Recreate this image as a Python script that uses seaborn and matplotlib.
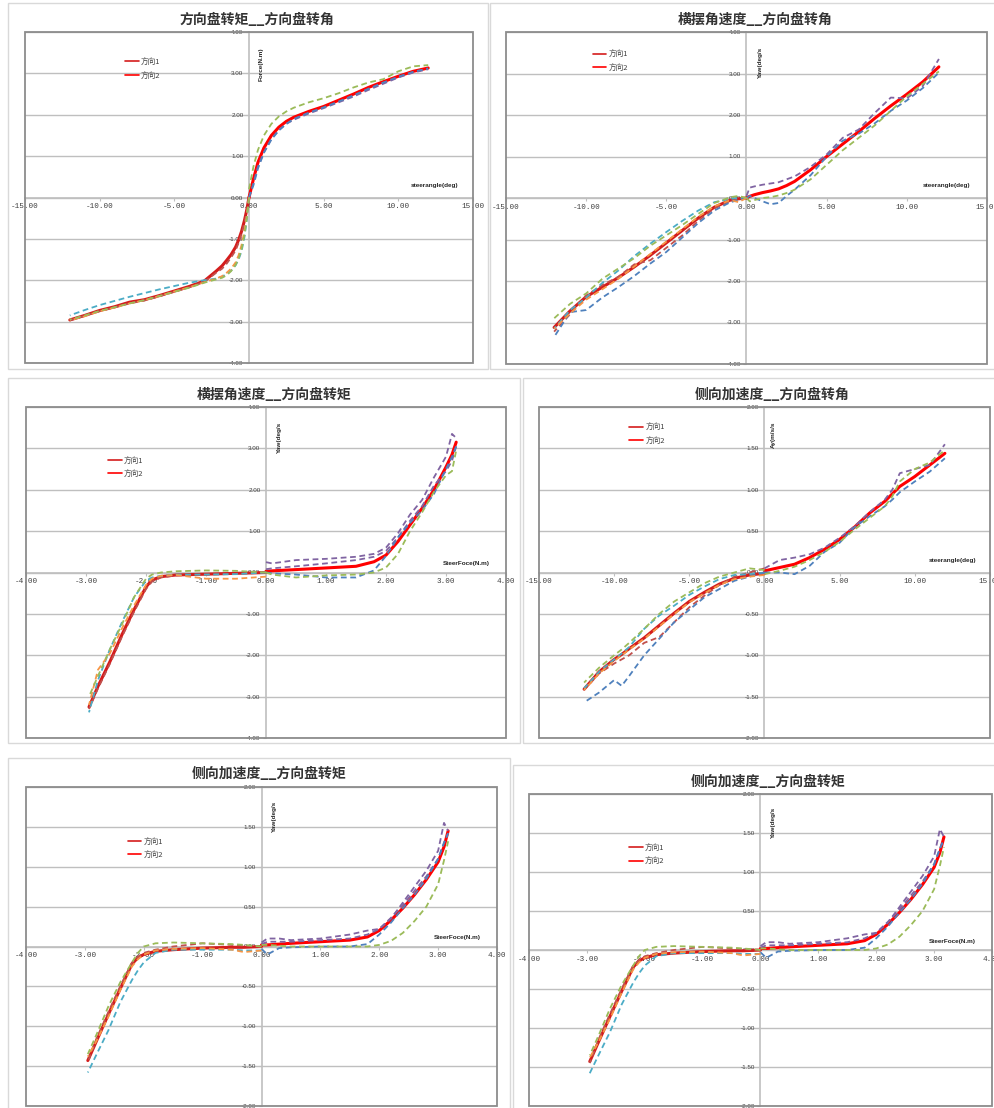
import matplotlib
matplotlib.use("Agg")
import numpy as np
import matplotlib.pyplot as plt
import seaborn as sns
from matplotlib.patches import Rectangle
from matplotlib.ticker import FormatStrFormatter
from matplotlib.font_manager import FontProperties

# ---------------- DATA ----------------
TITLES = ["方向盘转矩__方向盘转角", "横摆角速度__方向盘转角", "横摆角速度__方向盘转矩",
          "侧向加速度__方向盘转角", "侧向加速度__方向盘转矩", "侧向加速度__方向盘转矩"]
XLABELS = ["steerangle(deg)", "steerangle(deg)", "SteerFoce(N.m)",
           "steerangle(deg)", "SteerFoce(N.m)", "SteerFoce(N.m)"]
YLABELS = ["Force(N.m)", "Yaw(deg/s", "Yaw(deg/s", "Ay(m/s/s", "Yaw(deg/s", "Yaw(deg/s"]
LEGEND_LABELS = ["方向1", "方向2"]
ANGLE_TICKS = [-15, -10, -5, 0, 5, 10, 15]
TORQUE_TICKS = [-4, -3, -2, -1, 0, 1, 2, 3, 4]
YAW_TICKS = [-4, -3, -2, -1, 0, 1, 2, 3, 4]
AY_TICKS = [-2, -1.5, -1, -0.5, 0, 0.5, 1, 1.5, 2]

# Panel 1: torque vs steer angle
P1_POS_X = [0, 0.3, 0.6, 1.0, 1.5, 2.0, 2.5, 3.0, 4.0, 5.0, 6.0, 7.0, 8.0, 9.0, 10.0, 11.0, 12.0]
P1_POS_SOLID = [0.0, 0.45, 0.85, 1.2, 1.5, 1.7, 1.84, 1.94, 2.08, 2.2, 2.35, 2.5, 2.66, 2.8, 2.93, 3.05, 3.13]
P1_POS_PURPLE = [0.0, 0.35, 0.75, 1.1, 1.42, 1.63, 1.78, 1.88, 2.03, 2.16, 2.3, 2.44, 2.6, 2.75, 2.9, 3.02, 3.1]
P1_POS_BLUE = [0.0, 0.3, 0.7, 1.08, 1.4, 1.62, 1.78, 1.9, 2.05, 2.18, 2.32, 2.47, 2.63, 2.78, 2.92, 3.04, 3.12]
P1_POS_GREEN = [0.2, 0.75, 1.15, 1.5, 1.78, 1.96, 2.08, 2.17, 2.3, 2.4, 2.52, 2.66, 2.78, 2.86, 3.05, 3.17, 3.2]
P1_NEG_X = [0, -0.15, -0.3, -0.5, -0.7, -0.9, -1.2, -1.5, -1.8, -2.2, -3, -4, -5, -6, -7, -8, -9, -10, -11, -12]
P1_NEG_SOLID = [0, -0.3, -0.55, -0.82, -1.03, -1.2, -1.38, -1.52, -1.65, -1.78, -2.02, -2.15, -2.26, -2.37, -2.47, -2.53, -2.64, -2.73, -2.85, -2.96]
P1_NEG_RED = [0, -0.35, -0.6, -0.88, -1.1, -1.28, -1.45, -1.6, -1.72, -1.82, -2.04, -2.17, -2.28, -2.39, -2.49, -2.56, -2.66, -2.75, -2.86, -2.97]
P1_NEG_AQUA = [0, -0.55, -0.95, -1.3, -1.5, -1.64, -1.77, -1.85, -1.91, -1.96, -2.0, -2.06, -2.14, -2.22, -2.31, -2.4, -2.5, -2.6, -2.72, -2.85]
P1_NEG_ORANGE = [0, -0.45, -0.8, -1.15, -1.4, -1.57, -1.72, -1.82, -1.9, -1.96, -2.05, -2.17, -2.27, -2.38, -2.48, -2.56, -2.66, -2.75, -2.87, -2.97]
P1_NEG_GREEN = [0, -0.5, -0.9, -1.25, -1.48, -1.63, -1.78, -1.88, -1.94, -1.98, -2.06, -2.18, -2.28, -2.38, -2.48, -2.56, -2.65, -2.74, -2.85, -2.95]

# Panel 2: yaw rate vs steer angle
P2_POS_X = [0, 0.2, 0.5, 1, 1.5, 2, 2.5, 3, 4, 5, 6, 7, 8, 9, 10, 11, 12]
P2_POS_SOLID = [0, 0.04, 0.08, 0.13, 0.17, 0.22, 0.3, 0.4, 0.68, 1.0, 1.3, 1.6, 1.92, 2.22, 2.5, 2.8, 3.16]
P2_POS_PURPLE = [0.05, 0.25, 0.28, 0.32, 0.35, 0.38, 0.45, 0.52, 0.75, 1.05, 1.45, 1.65, 2.05, 2.42, 2.4, 2.7, 3.35]
P2_POS_BLUE = [0.0, 0.05, 0.0, -0.08, -0.15, -0.12, 0.05, 0.2, 0.55, 1.0, 1.38, 1.55, 1.8, 2.1, 2.35, 2.65, 3.02]
P2_POS_GREEN = [0.0, -0.08, -0.05, 0.0, 0.02, 0.06, 0.12, 0.2, 0.45, 0.8, 1.15, 1.45, 1.75, 2.1, 2.45, 2.75, 3.05]
P2_NEG_X = [0, -0.5, -1, -2, -3, -4, -5, -6, -7, -8, -9, -10, -11, -12]
P2_NEG_SOLID = [0, -0.02, -0.05, -0.22, -0.48, -0.78, -1.08, -1.38, -1.66, -1.92, -2.15, -2.38, -2.72, -3.12]
P2_NEG_RED = [0, -0.03, -0.08, -0.25, -0.55, -0.9, -1.2, -1.5, -1.6, -1.9, -2.1, -2.35, -2.8, -3.22]
P2_NEG_AQUA = [0, 0.0, -0.02, -0.1, -0.3, -0.55, -0.82, -1.1, -1.4, -1.75, -2.05, -2.4, -2.7, -3.15]
P2_NEG_BLUE = [0, -0.05, -0.1, -0.3, -0.6, -0.95, -1.3, -1.58, -1.88, -2.15, -2.4, -2.7, -2.75, -3.35]
P2_NEG_ORANGE = [0, -0.1, -0.05, -0.2, -0.45, -0.75, -1.05, -1.35, -1.65, -1.95, -2.2, -2.45, -2.78, -3.15]
P2_NEG_GREEN = [0, 0.05, 0.02, -0.12, -0.38, -0.65, -0.9, -1.15, -1.45, -1.7, -1.95, -2.3, -2.55, -2.9]

# Panel 3: yaw rate vs steer torque
P3_POS_X = [0, 0.1, 0.5, 1.0, 1.5, 1.8, 2.0, 2.2, 2.4, 2.6, 2.8, 3.0, 3.1, 3.17]
P3_POS_SOLID = [0.03, 0.04, 0.07, 0.11, 0.15, 0.26, 0.42, 0.75, 1.15, 1.55, 2.0, 2.55, 2.85, 3.15]
P3_POS_PURPLE = [0.25, 0.22, 0.3, 0.33, 0.38, 0.45, 0.6, 0.95, 1.4, 1.75, 2.3, 2.8, 3.35, 3.25]
P3_POS_PURPLE2 = [0.08, 0.1, 0.15, 0.22, 0.3, 0.38, 0.52, 0.85, 1.25, 1.6, 2.1, 2.45, 2.7, 3.05]
P3_POS_BLUE = [0.0, -0.02, -0.05, -0.12, -0.12, 0.05, 0.4, 0.85, 1.2, 1.5, 1.9, 2.5, 2.8, 3.05]
P3_POS_GREEN = [0.0, -0.05, -0.12, -0.07, -0.05, 0.0, 0.12, 0.45, 1.0, 1.45, 1.95, 2.35, 2.45, 2.95]
P3_NEG_X = [0, -0.5, -1.0, -1.5, -1.75, -1.9, -2.0, -2.2, -2.4, -2.6, -2.8, -2.95]
P3_NEG_SOLID = [0, -0.02, -0.04, -0.06, -0.1, -0.18, -0.35, -0.9, -1.5, -2.15, -2.75, -3.25]
P3_NEG_RED = [0, -0.03, -0.05, -0.07, -0.12, -0.22, -0.4, -0.95, -1.55, -2.2, -2.8, -3.3]
P3_NEG_AQUA = [0, -0.04, -0.05, -0.05, -0.08, -0.12, -0.2, -0.6, -1.2, -1.85, -2.6, -3.38]
P3_NEG_ORANGE = [-0.1, -0.15, -0.15, -0.06, -0.08, -0.15, -0.3, -0.8, -1.35, -1.95, -2.35, -3.2]
P3_NEG_GREEN = [0, 0.04, 0.05, 0.03, 0.0, -0.05, -0.15, -0.6, -1.25, -1.85, -2.5, -3.0]

# Panel 4: lateral acceleration vs steer angle
P4_POS_X = [0, 0.5, 1, 2, 3, 4, 5, 6, 7, 8, 8.5, 9, 10, 11, 12]
P4_POS_SOLID = [0.02, 0.04, 0.06, 0.1, 0.18, 0.28, 0.4, 0.55, 0.72, 0.86, 0.95, 1.04, 1.16, 1.3, 1.44]
P4_POS_PURPLE = [0.05, 0.1, 0.15, 0.18, 0.22, 0.3, 0.42, 0.56, 0.73, 0.88, 1.0, 1.2, 1.25, 1.3, 1.55]
P4_POS_BLUE = [0.0, 0.0, 0.0, -0.02, 0.08, 0.25, 0.36, 0.55, 0.68, 0.8, 0.88, 0.97, 1.1, 1.22, 1.38]
P4_POS_GREEN = [-0.02, 0.0, 0.02, 0.07, 0.15, 0.25, 0.37, 0.52, 0.66, 0.8, 0.92, 1.1, 1.25, 1.33, 1.48]
P4_NEG_X = [0, -1, -2, -3, -4, -5, -6, -7, -8, -9, -9.5, -10, -11, -12]
P4_NEG_SOLID = [-0.01, -0.03, -0.07, -0.14, -0.24, -0.35, -0.49, -0.64, -0.79, -0.92, -0.99, -1.05, -1.2, -1.41]
P4_NEG_RED = [0.05, 0.0, -0.05, -0.15, -0.28, -0.42, -0.6, -0.78, -0.85, -1.0, -1.05, -1.1, -1.22, -1.42]
P4_NEG_AQUA = [0.0, -0.02, -0.03, -0.08, -0.17, -0.27, -0.4, -0.52, -0.68, -0.9, -0.98, -1.05, -1.2, -1.4]
P4_NEG_BLUE = [0.0, -0.05, -0.1, -0.2, -0.3, -0.45, -0.6, -0.8, -1.0, -1.25, -1.37, -1.3, -1.45, -1.57]
P4_NEG_ORANGE = [-0.03, -0.05, -0.08, -0.15, -0.25, -0.36, -0.5, -0.65, -0.8, -0.93, -1.0, -1.07, -1.22, -1.42]
P4_NEG_GREEN = [0.03, 0.05, 0.0, -0.05, -0.13, -0.24, -0.35, -0.5, -0.68, -0.85, -0.93, -1.0, -1.15, -1.33]

# Panels 5 and 6: lateral acceleration vs steer torque (same chart twice)
P5_POS_X = [0, 0.1, 0.3, 0.5, 1.0, 1.5, 1.8, 2.0, 2.2, 2.4, 2.6, 2.8, 3.0, 3.1, 3.17]
P5_POS_SOLID = [0.02, 0.02, 0.03, 0.04, 0.06, 0.08, 0.12, 0.2, 0.33, 0.48, 0.65, 0.84, 1.06, 1.25, 1.45]
P5_POS_PURPLE = [0.05, 0.1, 0.1, 0.08, 0.1, 0.15, 0.2, 0.22, 0.35, 0.55, 0.75, 0.95, 1.2, 1.55, 1.45]
P5_POS_PURPLE2 = [0.03, 0.06, 0.06, 0.06, 0.08, 0.1, 0.15, 0.22, 0.36, 0.52, 0.7, 0.88, 1.1, 1.3, 1.42]
P5_POS_BLUE = [-0.03, -0.1, -0.02, -0.01, 0.0, 0.0, 0.03, 0.15, 0.3, 0.48, 0.65, 0.85, 1.1, 1.3, 1.42]
P5_POS_GREEN = [0.02, 0.02, 0.01, 0.0, 0.0, 0.0, 0.0, 0.02, 0.07, 0.17, 0.32, 0.5, 0.78, 1.08, 1.32]
P5_NEG_X = [0, -0.3, -0.5, -1.0, -1.5, -1.8, -2.0, -2.1, -2.2, -2.4, -2.6, -2.8, -2.95]
P5_NEG_SOLID = [0, -0.01, -0.01, -0.02, -0.04, -0.06, -0.1, -0.14, -0.22, -0.53, -0.85, -1.18, -1.43]
P5_NEG_RED = [0, 0.01, 0.02, 0.04, 0.0, -0.04, -0.08, -0.13, -0.2, -0.5, -0.82, -1.15, -1.45]
P5_NEG_AQUA = [-0.05, -0.05, -0.04, -0.04, -0.04, -0.08, -0.2, -0.3, -0.42, -0.7, -1.05, -1.35, -1.58]
P5_NEG_ORANGE = [-0.05, -0.07, -0.04, -0.02, -0.03, -0.05, -0.1, -0.16, -0.25, -0.55, -0.88, -1.18, -1.38]
P5_NEG_GREEN = [0, 0.02, 0.03, 0.04, 0.05, 0.04, 0.0, -0.08, -0.2, -0.45, -0.75, -1.1, -1.35]

# ---------------- STYLE ----------------
sns.set_theme(style="white")
plt.rcParams["font.family"] = ["Noto Sans CJK SC", "DejaVu Sans"]
plt.rcParams["axes.unicode_minus"] = False

C_PURPLE, C_BLUE, C_GREEN = "#8064A2", "#4F81BD", "#9BBB59"
C_RED, C_AQUA, C_ORANGE = "#C0504D", "#4BACC6", "#F79646"
C_DIR1, C_DIR2 = "#D41C1C", "#FF0000"
DASH = (0, (3.2, 2.0))

W, H = 995, 1108
fig = plt.figure(figsize=(W / 100, H / 100), dpi=100)
fig.patch.set_facecolor("white")


def fig_rect(l, t, r, b):
    return [l / W, 1 - b / H, (r - l) / W, (b - t) / H]


FRAMES = [(8, 3, 488, 369), (490, 3, 996, 369), (8, 378, 520, 743),
          (523, 378, 996, 743), (8, 758, 510, 1109), (513, 765, 996, 1109)]
PLOTS = [(25, 32, 473, 363), (506, 32, 987, 364), (26, 407, 506, 738),
         (539, 407, 990, 738), (26, 787, 497, 1106), (529, 794, 992, 1106)]
TITLE_POS = [(257, 20), (755, 20), (274, 395), (772, 395), (269, 774), (768, 782)]
LEGEND_POS = [(0.223, 0.921), (0.18, 0.945), (0.171, 0.85), (0.2, 0.951), (0.216, 0.841), (0.216, 0.84)]
XLAB_POS = [(0.915, 0.535), (0.916, 0.537), (0.918, 0.526), (0.917, 0.537), (0.916, 0.527), (0.914, 0.527)]
YLAB_POS = [(0.528, 0.903), (0.528, 0.908), (0.528, 0.908), (0.52, 0.917), (0.527, 0.909), (0.528, 0.91)]

P5_SPEC = dict(
    xlim=(-4, 4), ylim=(-2, 2), xticks=[-4, -3, -2, -1, 0, 1, 2, 3, 4], yticks=AY_TICKS,
    pos_x=P5_POS_X, pos_solid=P5_POS_SOLID,
    pos=[(P5_POS_PURPLE, C_PURPLE), (P5_POS_PURPLE2, C_PURPLE), (P5_POS_BLUE, C_BLUE), (P5_POS_GREEN, C_GREEN)],
    neg_x=P5_NEG_X, neg_solid=P5_NEG_SOLID,
    neg=[(P5_NEG_RED, C_RED), (P5_NEG_AQUA, C_AQUA), (P5_NEG_ORANGE, C_ORANGE), (P5_NEG_GREEN, C_GREEN)])

SPECS = [
    dict(xlim=(-15, 15), ylim=(-4, 4), xticks=ANGLE_TICKS, yticks=TORQUE_TICKS,
         pos_x=P1_POS_X, pos_solid=P1_POS_SOLID,
         pos=[(P1_POS_PURPLE, C_PURPLE), (P1_POS_BLUE, C_BLUE), (P1_POS_GREEN, C_GREEN)],
         neg_x=P1_NEG_X, neg_solid=P1_NEG_SOLID,
         neg=[(P1_NEG_RED, C_RED), (P1_NEG_AQUA, C_AQUA), (P1_NEG_ORANGE, C_ORANGE), (P1_NEG_GREEN, C_GREEN)]),
    dict(xlim=(-15, 15), ylim=(-4, 4), xticks=ANGLE_TICKS, yticks=YAW_TICKS,
         pos_x=P2_POS_X, pos_solid=P2_POS_SOLID,
         pos=[(P2_POS_PURPLE, C_PURPLE), (P2_POS_BLUE, C_BLUE), (P2_POS_GREEN, C_GREEN)],
         neg_x=P2_NEG_X, neg_solid=P2_NEG_SOLID,
         neg=[(P2_NEG_RED, C_RED), (P2_NEG_AQUA, C_AQUA), (P2_NEG_BLUE, C_BLUE),
              (P2_NEG_ORANGE, C_ORANGE), (P2_NEG_GREEN, C_GREEN)]),
    dict(xlim=(-4, 4), ylim=(-4, 4), xticks=[-4, -3, -2, -1, 0, 1, 2, 3, 4], yticks=YAW_TICKS,
         pos_x=P3_POS_X, pos_solid=P3_POS_SOLID,
         pos=[(P3_POS_PURPLE, C_PURPLE), (P3_POS_PURPLE2, C_PURPLE), (P3_POS_BLUE, C_BLUE), (P3_POS_GREEN, C_GREEN)],
         neg_x=P3_NEG_X, neg_solid=P3_NEG_SOLID,
         neg=[(P3_NEG_RED, C_RED), (P3_NEG_AQUA, C_AQUA), (P3_NEG_ORANGE, C_ORANGE), (P3_NEG_GREEN, C_GREEN)]),
    dict(xlim=(-15, 15), ylim=(-2, 2), xticks=ANGLE_TICKS, yticks=AY_TICKS,
         pos_x=P4_POS_X, pos_solid=P4_POS_SOLID,
         pos=[(P4_POS_PURPLE, C_PURPLE), (P4_POS_BLUE, C_BLUE), (P4_POS_GREEN, C_GREEN)],
         neg_x=P4_NEG_X, neg_solid=P4_NEG_SOLID,
         neg=[(P4_NEG_RED, C_RED), (P4_NEG_AQUA, C_AQUA), (P4_NEG_BLUE, C_BLUE),
              (P4_NEG_ORANGE, C_ORANGE), (P4_NEG_GREEN, C_GREEN)]),
    P5_SPEC,
    P5_SPEC,
]

for fr in FRAMES:
    l, t, r, b = fr
    fig.add_artist(Rectangle((l / W, 1 - b / H), (r - l) / W, (b - t) / H,
                             transform=fig.transFigure, fill=False, ec="#D9D9D9", lw=1.0))

legend_font = FontProperties(family=["Noto Sans CJK SC", "DejaVu Sans"], size=5.5)

for i, spec in enumerate(SPECS):
    ax = fig.add_axes(fig_rect(*PLOTS[i]))
    ax.set_facecolor("white")
    # solid averaged curves
    sns.lineplot(x=spec["neg_x"], y=spec["neg_solid"], ax=ax, color=C_DIR1, linewidth=2.2,
                 sort=False, estimator=None, legend=False)
    h1 = ax.lines[-1]
    sns.lineplot(x=spec["pos_x"], y=spec["pos_solid"], ax=ax, color=C_DIR2, linewidth=2.2,
                 sort=False, estimator=None, legend=False)
    h2 = ax.lines[-1]
    # individual runs (dashed)
    for ys, c in spec["pos"]:
        sns.lineplot(x=spec["pos_x"], y=ys, ax=ax, color=c, linewidth=1.3, linestyle=DASH,
                     sort=False, estimator=None, legend=False)
    for ys, c in spec["neg"]:
        sns.lineplot(x=spec["neg_x"], y=ys, ax=ax, color=c, linewidth=1.3, linestyle=DASH,
                     sort=False, estimator=None, legend=False)

    ax.set_xlim(*spec["xlim"])
    ax.set_ylim(*spec["ylim"])
    ax.set_xticks(spec["xticks"])
    ax.set_yticks(spec["yticks"])
    ax.xaxis.set_major_formatter(FormatStrFormatter("%.2f"))
    ax.yaxis.set_major_formatter(FormatStrFormatter("%.2f"))
    ax.set_xlabel("")
    ax.set_ylabel("")
    for s in ["top", "right"]:
        ax.spines[s].set_visible(False)
    ax.spines["left"].set_position(("data", 0))
    ax.spines["bottom"].set_position(("data", 0))
    for s in ["left", "bottom"]:
        ax.spines[s].set_color("#BFBFBF")
        ax.spines[s].set_linewidth(1.2)
        ax.spines[s].set_zorder(0.5)
    ax.tick_params(axis="both", bottom=True, left=True, direction="out", length=2.5,
                   width=0.8, color="#BFBFBF", pad=1.5)
    for lab in ax.get_xticklabels():
        lab.set_fontfamily("Liberation Mono")
        lab.set_fontsize(5.5)
        lab.set_color("#404040")
    for lab in ax.get_yticklabels():
        lab.set_fontfamily("Liberation Sans")
        lab.set_fontsize(4.5)
        lab.set_color("#404040")
    ax.grid(axis="y", color="#BFBFBF", linewidth=1.0)
    ax.grid(axis="x", visible=False)
    ax.set_axisbelow(True)
    ax.add_patch(Rectangle((0, 0), 1, 1, transform=ax.transAxes, fill=False,
                           ec="#8C8C8C", lw=1.3, clip_on=False, zorder=6))

    leg = ax.legend(handles=[h1, h2], labels=LEGEND_LABELS, loc="upper left",
                    bbox_to_anchor=LEGEND_POS[i], frameon=False, prop=legend_font,
                    handlelength=1.8, handletextpad=0.3, labelspacing=0.7,
                    borderpad=0, borderaxespad=0)
    for lh in leg.get_lines():
        lh.set_linewidth(1.2)
    for t in leg.get_texts():
        t.set_color("#404040")

    ax.text(*XLAB_POS[i], XLABELS[i], transform=ax.transAxes, ha="center", va="center",
            fontsize=4.6, fontweight="bold", family=["Liberation Sans"], color="#262626")
    ax.text(*YLAB_POS[i], YLABELS[i], transform=ax.transAxes, ha="center", va="center",
            rotation=90, fontsize=4.6, fontweight="bold", family=["Liberation Sans"], color="#262626")

    tx, ty = TITLE_POS[i]
    fig.text(tx / W, 1 - ty / H, TITLES[i], ha="center", va="center", fontsize=10,
             fontweight="bold", family=["Noto Sans CJK SC", "DejaVu Sans"], color="#333333")

fig.savefig("out.png", dpi=100, facecolor="white")
